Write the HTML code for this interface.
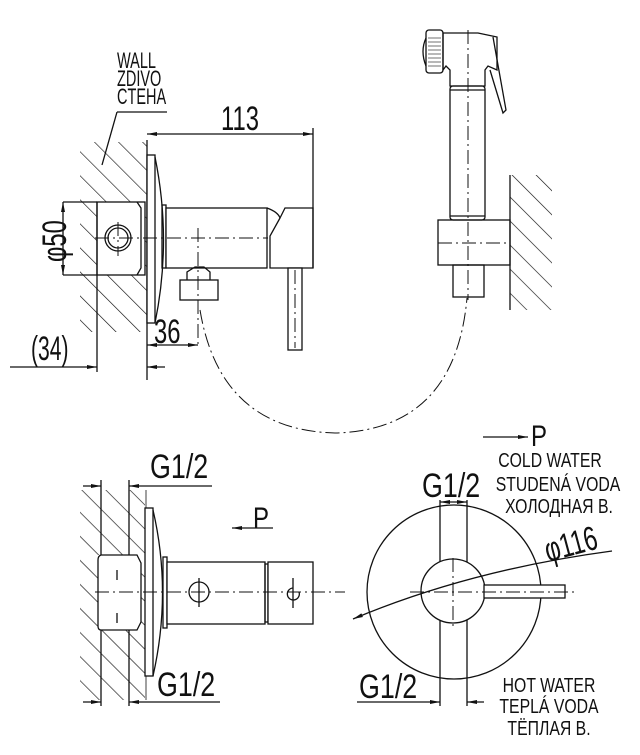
<!DOCTYPE html>
<html><head><meta charset="utf-8"><style>
html,body{margin:0;padding:0;background:#fff;}
svg{display:block;}
text{font-family:"Liberation Sans",sans-serif;fill:#111;}
</style></head><body>
<svg width="640" height="755" viewBox="0 0 640 755" xmlns="http://www.w3.org/2000/svg">
<defs>
<pattern id="h" patternUnits="userSpaceOnUse" width="17" height="17" patternTransform="rotate(-45)">
<line x1="0" y1="0" x2="0" y2="17" stroke="#111" stroke-width="1.3"/>
</pattern>
<marker id="a" viewBox="0 0 10 6" refX="10" refY="3" markerWidth="10" markerHeight="6" orient="auto-start-reverse" markerUnits="userSpaceOnUse"><path d="M0,1 L10,3 L0,5z" fill="#111"/></marker>
</defs>
<g stroke="#111" stroke-width="1.3" fill="none">
<!-- TOP LEFT VIEW -->
<rect x="80" y="142" width="67" height="190" fill="url(#h)" stroke="none"/>
<rect x="97" y="202" width="48" height="73" fill="#fff"/>
<line x1="147" y1="140" x2="147" y2="380"/>
<rect x="147" y="155" width="8" height="168" fill="#fff"/>
<path d="M155,157 Q172,240 155,323"/>
<line x1="63" y1="202" x2="97" y2="202"/><line x1="63" y1="275" x2="97" y2="275"/>
<line x1="63" y1="202" x2="63" y2="275" marker-start="url(#a)" marker-end="url(#a)"/>
<line x1="97" y1="202" x2="97" y2="372"/>
<path d="M137,202 L141,208 L141,268 L137,275"/>
<circle cx="118" cy="238" r="13"/><circle cx="118" cy="238" r="10"/>
<rect x="162" y="205" width="4" height="63"/>
<rect x="166" y="208" width="101" height="60" fill="#fff"/>
<path d="M267,208 Q278,212 280,218 L270,236 L270,268 L313,268 L313,208 L285,208 L280,218"/>
<rect x="288" y="268" width="14" height="82" fill="#fff"/>
<path d="M187,280 L187,272 L195,267 L204,267 L210,272 L210,280"/>
<rect x="180" y="280" width="38" height="20" fill="#fff"/>
<line x1="147" y1="134" x2="313" y2="134" marker-start="url(#a)" marker-end="url(#a)"/>
<line x1="313" y1="128" x2="313" y2="268"/>
<line x1="147" y1="345" x2="198" y2="345" marker-start="url(#a)" marker-end="url(#a)"/>
<line x1="10" y1="367" x2="97" y2="367" marker-end="url(#a)"/>
<line x1="147" y1="367" x2="165" y2="367" marker-start="url(#a)"/>
<line x1="167" y1="112" x2="117" y2="112"/><line x1="117" y1="112" x2="102" y2="165"/>
<g stroke-dasharray="14,4,2,4" stroke-width="1">
<line x1="95" y1="238" x2="268" y2="238"/>
<line x1="118" y1="222" x2="118" y2="256"/>
<line x1="198" y1="228" x2="198" y2="345"/>
<line x1="295" y1="270" x2="295" y2="348"/>
<path d="M200,310 Q220,430 335,433 Q455,430 467,298"/>
</g>
<!-- TOP RIGHT VIEW -->
<rect x="510" y="175" width="42" height="135" fill="url(#h)" stroke="none"/>
<line x1="510" y1="175" x2="510" y2="310"/>
<rect x="426" y="30" width="17" height="43" rx="3" fill="#fff"/>
<path d="M426,38 Q420,51 426,66"/>
<g stroke-width="0.6"><line x1="428" y1="38" x2="441" y2="38"/><line x1="428" y1="42" x2="441" y2="42"/><line x1="428" y1="46" x2="441" y2="46"/><line x1="428" y1="50" x2="441" y2="50"/><line x1="428" y1="54" x2="441" y2="54"/><line x1="428" y1="58" x2="441" y2="58"/><line x1="428" y1="62" x2="441" y2="62"/><line x1="428" y1="66" x2="441" y2="66"/></g>
<path d="M443,33 L478,33 L497,37 L497,70 L488,66 L485,70 L485,86 L450,86 L450,70 L446,66 L443,70 Z"/>
<path d="M493,37 L506,110 L503,113 L490,70"/>
<rect x="450" y="86" width="35" height="134" rx="3"/>
<line x1="450" y1="90" x2="485" y2="90"/><line x1="450" y1="216" x2="485" y2="216"/>
<rect x="438" y="220" width="72" height="45"/>
<rect x="453" y="265" width="31" height="32"/>
<g stroke-dasharray="14,4,2,4" stroke-width="1">
<line x1="468" y1="30" x2="468" y2="300"/>
<line x1="438" y1="243" x2="510" y2="243"/>
</g>
<!-- BOTTOM LEFT VIEW -->
<rect x="80" y="490" width="65" height="210" fill="url(#h)" stroke="none"/>
<rect x="98" y="555" width="42" height="75" fill="#fff" stroke="none"/>
<line x1="101" y1="480" x2="101" y2="706"/>
<line x1="129" y1="480" x2="129" y2="706"/>
<line x1="146" y1="490" x2="146" y2="700" stroke-width="0.8"/>
<path d="M137,555 L101,555 Q98,556 98,560 L98,626 Q98,630 101,630 L137,630 L141,622 L141,563 Z" fill="#fff"/>
<rect x="145" y="508" width="8" height="168" fill="#fff"/>
<path d="M153,510 Q172,592 153,676"/>
<rect x="163" y="557" width="4" height="71"/>
<rect x="167" y="562" width="98" height="62" fill="#fff"/>
<rect x="265" y="564" width="3" height="58"/>
<rect x="268" y="562" width="45" height="62" fill="#fff"/>
<circle cx="199" cy="592" r="10"/><line x1="199" y1="578" x2="199" y2="607"/>
<path d="M293,588 A6,6 0 1 0 299,592" /><line x1="293" y1="578" x2="293" y2="608"/>
<line x1="117" y1="570" x2="117" y2="580"/><line x1="117" y1="613" x2="117" y2="623"/>
<line x1="83" y1="486" x2="101" y2="486" marker-end="url(#a)"/>
<line x1="129" y1="486" x2="212" y2="486" marker-start="url(#a)"/>
<line x1="83" y1="702" x2="101" y2="702" marker-end="url(#a)"/>
<line x1="129" y1="702" x2="220" y2="702" marker-start="url(#a)"/>
<line x1="273" y1="528" x2="232" y2="528" marker-end="url(#a)"/>
<line x1="95" y1="592" x2="345" y2="592" stroke-dasharray="14,4,2,4" stroke-width="1"/>
<!-- BOTTOM RIGHT VIEW -->
<line x1="483" y1="437" x2="528" y2="437" marker-end="url(#a)"/>
<circle cx="454" cy="592" r="87" fill="#fff"/>
<line x1="440" y1="500" x2="440" y2="706"/>
<line x1="467" y1="500" x2="467" y2="706"/>
<circle cx="453" cy="591" r="32" fill="#fff"/>
<rect x="484" y="585" width="81" height="13" fill="#fff"/>
<line x1="440" y1="502" x2="467" y2="502" marker-start="url(#a)" marker-end="url(#a)"/>
<line x1="357" y1="702" x2="440" y2="702" marker-end="url(#a)"/>
<line x1="467" y1="702" x2="484" y2="702" marker-start="url(#a)"/>
<path d="M353,619 Q470,570 612,551" marker-start="url(#a)"/>
<g stroke-dasharray="14,4,2,4" stroke-width="1">
<line x1="410" y1="592" x2="578" y2="592"/>
<line x1="453" y1="558" x2="453" y2="628"/>
</g>
</g>
<!-- TEXT -->
<g font-size="22">
<text transform="translate(117 68) scale(0.66 1)">WALL</text>
<text transform="translate(117 86) scale(0.66 1)">ZDIVO</text>
<text transform="translate(117 104) scale(0.66 1)">CTEHA</text>
</g>
<g font-size="34">
<text transform="translate(221 130) scale(0.7 1)">113</text>
<text transform="translate(154 343) scale(0.7 1)">36</text>
<text transform="translate(31 360) scale(0.62 1)">(34)</text>
<text transform="translate(66 262) rotate(-90) scale(0.7 1)">φ50</text>
<text transform="translate(150 478) scale(0.79 1)">G1/2</text>
<text transform="translate(157 696) scale(0.79 1)">G1/2</text>
<text transform="translate(422 497) scale(0.79 1)">G1/2</text>
<text transform="translate(359 698) scale(0.79 1)">G1/2</text>
<text transform="translate(548 562) rotate(-15) scale(0.7 1)">φ116</text>
</g>
<g font-size="30">
<text transform="translate(253 528) scale(0.8 1)">P</text>
<text transform="translate(531 446) scale(0.8 1)">P</text>
</g>
<g font-size="20" text-anchor="middle">
<text transform="translate(550 467) scale(0.79 1)">COLD WATER</text>
<text transform="translate(558 491) scale(0.79 1)">STUDENÁ VODA</text>
<text transform="translate(559 513) scale(0.79 1)">ХОЛОДНАЯ В.</text>
<text transform="translate(549 692) scale(0.79 1)">HOT WATER</text>
<text transform="translate(549 713) scale(0.79 1)">TEPLÁ VODA</text>
<text transform="translate(549 735) scale(0.79 1)">ТЁПЛАЯ В.</text>
</g>
</svg>
</body></html>
